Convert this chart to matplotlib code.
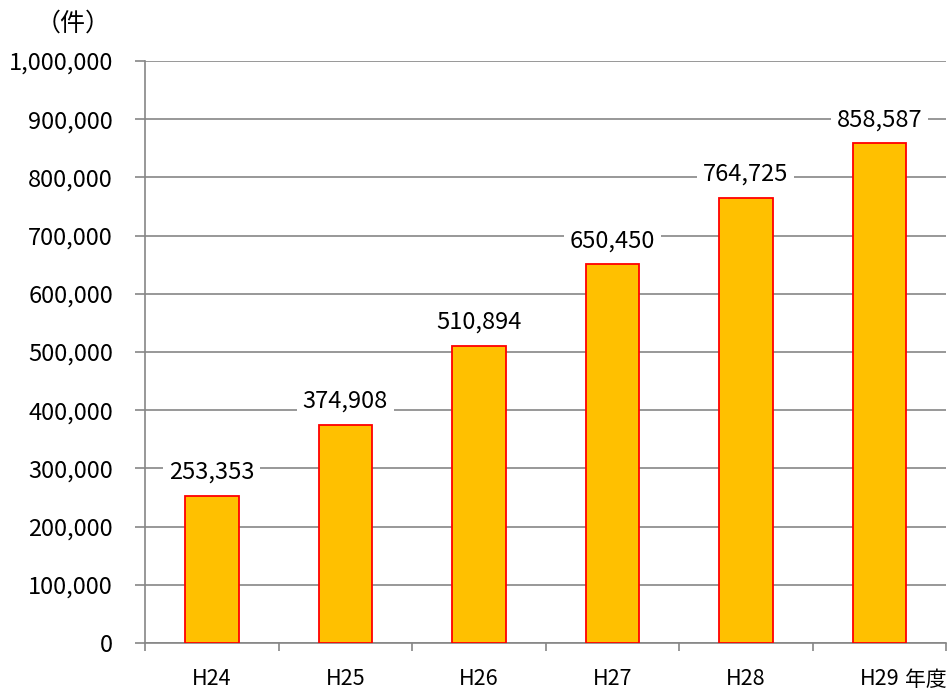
import matplotlib
matplotlib.use('Agg')
import matplotlib.pyplot as plt
import numpy as np
from matplotlib.ticker import FuncFormatter

plt.rcParams['font.family'] = ['Noto Sans CJK JP', 'DejaVu Sans']

# 年度別件数
years = ['H24', 'H25', 'H26', 'H27', 'H28', 'H29']
counts = [253353, 374908, 510894, 650450, 764725, 858587]

grid_c = '#868686'

fig = plt.figure(figsize=(9.48, 6.92), dpi=100)
ax = fig.add_axes([0.153, 0.0708, 0.845, 0.841])

x = np.arange(len(years))
ax.bar(x, counts, width=0.4, color='#FFC000', edgecolor='#FF0000', linewidth=1.3, zorder=3)

ax.set_xlim(-0.5, len(years) - 0.5)
ax.set_ylim(0, 1000000)
ax.set_yticks(np.arange(0, 1000001, 100000))
ax.yaxis.set_major_formatter(FuncFormatter(lambda v, p: f'{int(v):,}'))
ax.grid(axis='y', color=grid_c, linewidth=1.2, zorder=0)

# 区切りの目盛りと中央のラベル
ax.set_xticks(np.arange(-0.5, len(years)), labels=[''] * (len(years) + 1))
ax.set_xticks(x, labels=years, minor=True)
ax.tick_params(axis='x', which='minor', length=0, pad=18, labelsize=15.5)
ax.tick_params(axis='x', which='major', length=6, color=grid_c, width=1.2)
ax.tick_params(axis='y', length=7, color=grid_c, width=1.2, labelsize=17, pad=16)

for s in ['top', 'right']:
    ax.spines[s].set_visible(False)
for s in ['left', 'bottom']:
    ax.spines[s].set_color(grid_c)
    ax.spines[s].set_linewidth(1.2)

for xi, v in zip(x, counts):
    ax.annotate(f'{v:,}', (xi, v), xytext=(0, 17), textcoords='offset points',
                ha='center', va='center', fontsize=17, zorder=4,
                bbox=dict(facecolor='white', edgecolor='none', pad=4))

fig.text(0.077, 0.966, '（件）', ha='center', va='center', fontsize=18)
fig.text(0.977, 0.017, '年度', ha='center', va='center', fontsize=15)

fig.savefig('out.png', dpi=100)
